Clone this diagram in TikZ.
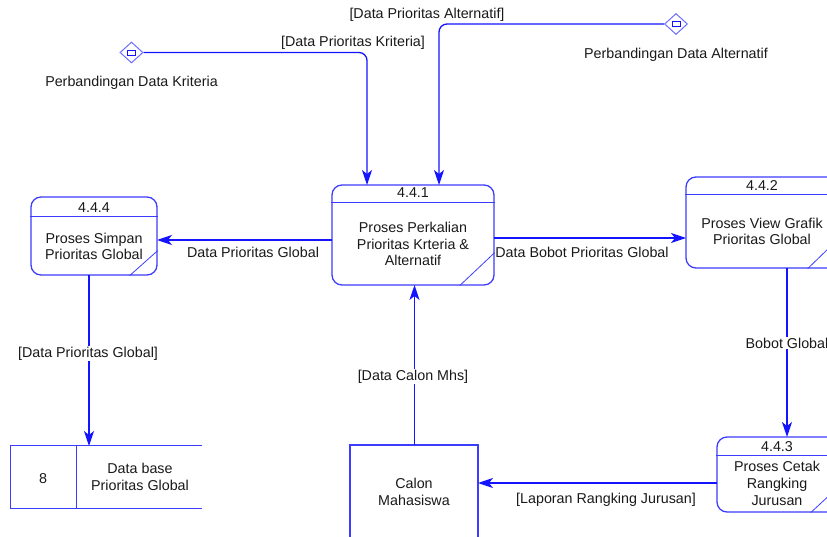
\documentclass[tikz,border=0pt]{standalone}
\usepackage{fontspec}
\setmainfont{Liberation Sans}
\usetikzlibrary{arrows.meta,calc,shapes.geometric}
\definecolor{flowblue}{RGB}{20,20,255}
\definecolor{boxblue}{RGB}{60,60,255}
\definecolor{gateblue}{RGB}{110,110,255}
\definecolor{txt}{RGB}{25,25,25}

\begin{document}
\begin{tikzpicture}[x=1pt,y=-1pt,
  font=\fontsize{14.3}{16.6}\selectfont,
  every node/.style={text=txt,inner sep=0pt},
  lbl/.style={anchor=base,align=center},
  proc/.style={draw=boxblue,line width=1.3pt,rounded corners=10pt},
  split/.style={draw=boxblue,line width=1.1pt},
  corner/.style={draw=boxblue,line width=0.8pt},
  flow/.style={draw=flowblue,line width=1.3pt,
    -{Stealth[length=15pt,width=10pt,inset=4pt]}},
  gate/.style={diamond,draw=gateblue,line width=1pt,minimum width=23pt,minimum height=21pt},
  store/.style={draw=boxblue,line width=1.2pt},
  extent/.style={draw=boxblue,line width=1.3pt}]

\useasboundingbox (0,0) rectangle (827,537);
\clip (0,0) rectangle (827,537);

% ---------- processes ----------
\node[proc,minimum width=162pt,minimum height=100pt] (p441) at (413,235) {};
\node[proc,minimum width=126pt,minimum height=78pt] (p444) at (94,236) {};
\node[proc,minimum width=152pt,minimum height=91pt] (p442) at (762,222.5) {};
\node[proc,minimum width=120pt,minimum height=75pt] (p443) at (777,474.5) {};

% header separators
\draw[split] ($(p441.north west)+(0,18)$) -- ($(p441.north east)+(0,18)$);
\draw[split] ($(p444.north west)+(0,20)$) -- ($(p444.north east)+(0,20)$);
\draw[split] ($(p442.north west)+(0,18)$) -- ($(p442.north east)+(0,18)$);
\draw[split] ($(p443.north west)+(0,19)$) -- ($(p443.north east)+(0,19)$);

% corner marks
\draw[corner] ($(p441.south east)+(0,-33)$) -- ($(p441.south east)+(-35,0)$);
\draw[corner] ($(p444.south east)+(0,-25)$) -- ($(p444.south east)+(-28,0)$);
\draw[corner] ($(p442.south east)+(0,-30)$) -- ($(p442.south east)+(-31,0)$);
\draw[corner] ($(p443.south east)+(0,-25)$) -- ($(p443.south east)+(-27,0)$);

% process texts (multi-line nodes sit on the baseline of their last line)
\node[lbl] (t441a) at (413,198) {4.4.1};
\node[lbl] (t441b) at (413,266) {Proses Perkalian\\Prioritas Krteria \&\\Alternatif};
\node[lbl] (t444a) at (94,213) {4.4.4};
\node[lbl] (t444b) at (94,260) {Proses Simpan\\Prioritas Global};
\node[lbl] (t442a) at (762,191) {4.4.2};
\node[lbl] (t442b) at (762,245) {Proses View Grafik\\Prioritas Global};
\node[lbl] (t443a) at (777,451) {4.4.3};
\node[lbl] (t443b) at (777,505) {Proses Cetak\\Rangking\\Jurusan};

% ---------- data store ----------
\node[minimum width=191pt,minimum height=62pt] (ds) at (106.5,477) {};
\draw[store] (ds.north east) -- (ds.north west) -- (ds.south west) -- (ds.south east);
\draw[store] ($(ds.north west)+(66,0)$) -- ($(ds.south west)+(66,0)$);
\node[lbl] (ds8) at (43,483) {8};
\node[lbl] (dsn) at (140,490) {Data base\\Prioritas Global};

% ---------- external entity ----------
\node[extent,minimum width=128pt,minimum height=115pt] (ext) at (414,502.5) {};
\node[lbl] (extn) at (414,505) {Calon\\Mahasiswa};

% ---------- gates ----------
\node[gate] (g1) at (131.5,52.5) {};
\draw[draw=flowblue,line width=0.9pt] ($(g1.center)+(-4,-2.5)$) rectangle ($(g1.center)+(4,2.5)$);
\node[gate] (g2) at (676,24) {};
\draw[draw=flowblue,line width=0.9pt] ($(g2.center)+(-4,-2.5)$) rectangle ($(g2.center)+(4,2.5)$);
\node[lbl] (g1n) at (131.5,87) {Perbandingan Data Kriteria};
\node[lbl] (g2n) at (676,59) {Perbandingan Data Alternatif};

% ---------- flows ----------
\coordinate (in1) at (367,185);
\coordinate (in2) at (439,185);
\draw[flow,rounded corners=8pt] (g1.east) -| (in1);
\draw[flow,rounded corners=8pt] (g2.west) -| (in2);
\node[lbl] (f1) at (353,46.5) {[Data Prioritas Kriteria]};
\node[lbl] (f2) at (427,19) {[Data Prioritas Alternatif]};

\coordinate (o441w) at (332,240);
\coordinate (i444e) at (157,240);
\draw[flow] (o441w) -- (i444e);
\node[lbl] (f3) at (253,258) {Data Prioritas Global};

\coordinate (o441e) at (494,238);
\coordinate (i442w) at (686,238);
\draw[flow] (o441e) -- (i442w);
\node[lbl] (f4) at (582,258) {Data Bobot Prioritas Global};

\coordinate (o444s) at (89,275);
\coordinate (idsn) at (89,446);
\draw[flow] (o444s) -- (idsn);
\node[lbl,fill=white,inner sep=1pt] (f5) at (88,357) {[Data Prioritas Global]};

\coordinate (oextn) at (414.5,445);
\coordinate (i441s) at (414.5,285);
\draw[flow] (oextn) -- (i441s);
\node[lbl,fill=white,inner sep=1pt] (f6) at (413,380) {[Data Calon Mhs]};

\coordinate (o442s) at (787,268);
\coordinate (i443n) at (787,437);
\draw[flow] (o442s) -- (i443n);
\node[lbl,fill=white,inner sep=1pt] (f7) at (787,348) {Bobot Global};

\coordinate (o443w) at (717,483);
\coordinate (iexte) at (478,483);
\draw[flow] (o443w) -- (iexte);
\node[lbl] (f8) at (606,503) {[Laporan Rangking Jurusan]};
\end{tikzpicture}
\end{document}
